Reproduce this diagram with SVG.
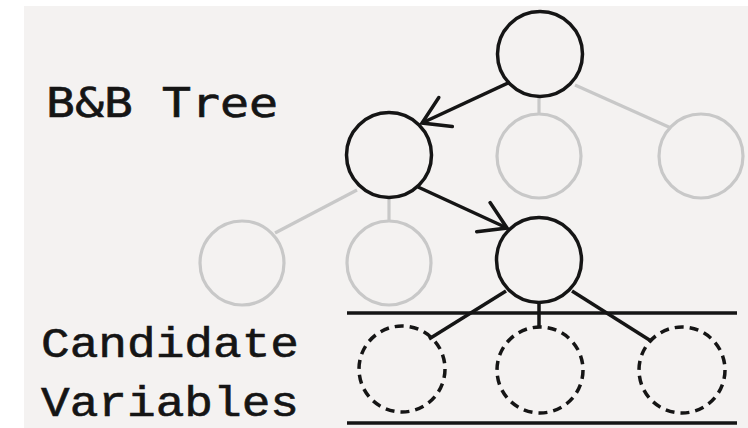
<svg xmlns="http://www.w3.org/2000/svg" width="748" height="428" viewBox="0 0 748 428">
<style>
.bg{fill:#f4f2f1}
.node{fill:none;stroke:#151515;stroke-width:3.5}
.faded{fill:none;stroke:#c8c8c8;stroke-width:3.2}
.cand{fill:none;stroke:#151515;stroke-width:3.5;stroke-dasharray:9 6}
.edge{fill:none;stroke:#151515;stroke-width:3.5}
.fedge{fill:none;stroke:#c8c8c8;stroke-width:3.2}
.rule{stroke:#151515;stroke-width:3.5}
.t1{font-family:"DejaVu Sans Mono",monospace;font-size:41px;fill:#151515;stroke:#151515;stroke-width:0.6}
.t2{font-family:"Liberation Mono",monospace;font-size:43px;fill:#151515;stroke:#151515;stroke-width:0.6}
</style>
<defs>
<marker id="arr" markerUnits="userSpaceOnUse" markerWidth="40" markerHeight="40" viewBox="-30 -20 34 40" refX="0" refY="0" orient="auto">
<path d="M -26,-16 L 0,0 L -26,16" fill="none" stroke="#151515" stroke-width="3.5" stroke-linecap="round" stroke-linejoin="miter"/>
</marker>
</defs>
<rect class="bg" x="24" y="6" width="724" height="422"/>
<g id="labels">
<text class="t1" x="46" y="117" textLength="232" lengthAdjust="spacingAndGlyphs">B&amp;B Tree</text>
<text class="t2" x="41" y="357" textLength="258" lengthAdjust="spacingAndGlyphs">Candidate</text>
<text class="t2" x="41" y="416" textLength="258" lengthAdjust="spacingAndGlyphs">Variables</text>
</g>
<g id="rules">
<line class="rule" x1="347" y1="313" x2="737" y2="313"/>
<line class="rule" x1="347" y1="423" x2="737" y2="423"/>
</g>
<g id="connectors">
<line class="fedge" x1="539" y1="97" x2="539" y2="114"/>
<line class="fedge" x1="575" y1="85" x2="671" y2="128"/>
<line class="fedge" x1="357" y1="190" x2="275" y2="233"/>
<line class="fedge" x1="389" y1="198" x2="389" y2="221"/>
<line class="edge" x1="510" y1="82" x2="422" y2="123" marker-end="url(#arr)"/>
<line class="edge" x1="418" y1="187" x2="507" y2="228" marker-end="url(#arr)"/>
<line class="edge" x1="506" y1="291" x2="429" y2="339"/>
<line class="edge" x1="539" y1="302" x2="539" y2="328"/>
<line class="edge" x1="572" y1="291" x2="651" y2="341"/>
</g>
<g id="root"><circle class="node" cx="540" cy="54" r="42.5"/></g>
<g id="n2a"><circle class="node" cx="389" cy="155" r="42.5"/></g>
<g id="n2b"><circle class="faded" cx="539" cy="156" r="42"/></g>
<g id="n2c"><circle class="faded" cx="701" cy="156" r="42"/></g>
<g id="n3a"><circle class="faded" cx="242" cy="263" r="42"/></g>
<g id="n3b"><circle class="faded" cx="389" cy="263" r="42"/></g>
<g id="n3c"><circle class="node" cx="539" cy="260" r="42.5"/></g>
<g id="c1"><circle class="cand" cx="402" cy="369" r="43"/></g>
<g id="c2"><circle class="cand" cx="540" cy="370" r="43"/></g>
<g id="c3"><circle class="cand" cx="682" cy="370" r="43"/></g>
</svg>
